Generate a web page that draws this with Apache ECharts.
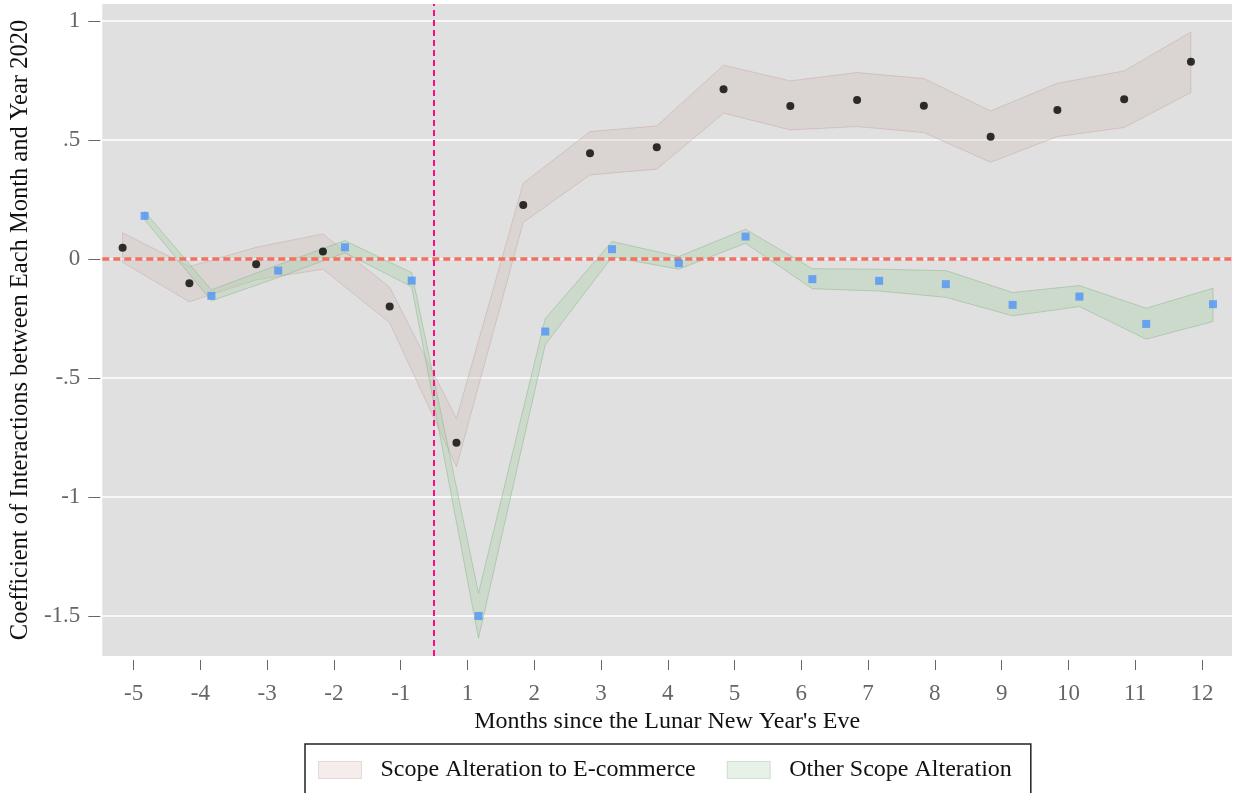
<!DOCTYPE html>
<html>
<head>
<meta charset="utf-8">
<script src="https://cdn.jsdelivr.net/npm/echarts@6/dist/echarts.min.js"></script>
<style>
html,body{margin:0;padding:0;background:#fff;}
#chart{width:1233px;height:793px;}
</style>
</head>
<body>
<div id="chart"></div>
<script>
// ---- data ----
const xTickLabels = ['-5','-4','-3','-2','-1','1','2','3','4','5','6','7','8','9','10','11','12'];
const yTickValues = [-1.5, -1, -0.5, 0, 0.5, 1];
const yTickLabels = ['-1.5', '-1', '-.5', '0', '.5', '1'];

const ecoCoef = [0.047, -0.102, -0.022, 0.031, -0.200, -0.772, 0.227, 0.444, 0.469, 0.713, 0.643, 0.668, 0.644, 0.513, 0.626, 0.671, 0.828];
const ecoLow  = [-0.014, -0.180, -0.088, -0.043, -0.268, -0.873, 0.153, 0.353, 0.377, 0.612, 0.542, 0.556, 0.531, 0.406, 0.514, 0.552, 0.699];
const ecoHigh = [0.110, -0.032, 0.049, 0.105, -0.119, -0.670, 0.318, 0.535, 0.559, 0.814, 0.748, 0.783, 0.758, 0.622, 0.738, 0.790, 0.953];

const otherCoef = [0.181, -0.155, -0.049, 0.049, -0.091, -1.500, -0.305, 0.041, -0.018, 0.094, -0.085, -0.092, -0.106, -0.193, -0.158, -0.273, -0.190];
const otherLow  = [0.164, -0.176, -0.078, 0.026, -0.117, -1.593, -0.360, 0.008, -0.043, 0.066, -0.125, -0.135, -0.161, -0.239, -0.200, -0.337, -0.263];
const otherHigh = [0.199, -0.130, -0.025, 0.077, -0.058, -1.404, -0.250, 0.073, 0.010, 0.125, -0.041, -0.043, -0.049, -0.141, -0.112, -0.207, -0.123];

const eventLine = 4.5; // between month -1 and month 1
const ECO_OFF = -0.165, OTHER_OFF = 0.165;

const FONT = "'Liberation Serif', 'Times New Roman', serif";
const xIdx = xTickLabels.map((_, i) => i);

function band(name, off, low, high, fill, stroke, z) {
  return {
    type: 'custom',
    name: name,
    z: z,
    silent: true,
    data: low.map((v, i) => [i + off, v, high[i]]),
    encode: { x: 0, y: [1, 2] },
    renderItem: function (params, api) {
      if (params.dataIndex !== 0) return null;
      const pts = [];
      for (let i = 0; i < high.length; i++) pts.push(api.coord([i + off, high[i]]));
      for (let i = low.length - 1; i >= 0; i--) pts.push(api.coord([i + off, low[i]]));
      return { type: 'polygon', shape: { points: pts }, style: { fill: fill, stroke: stroke, lineWidth: 1 } };
    }
  };
}

const chart = echarts.init(document.getElementById('chart'), null, { renderer: 'canvas' });
const option = {
  animation: false,
  backgroundColor: '#ffffff',
  grid: { left: 102, top: 4, right: 1, bottom: 137, show: true, backgroundColor: '#e0e0e0', borderWidth: 0 },
  xAxis: {
    type: 'value', min: -0.469, max: 16.45, offset: 4,
    axisLine: { show: false, onZero: false },
    axisTick: { show: true, length: 10, customValues: xIdx, lineStyle: { color: '#666', width: 1 } },
    axisLabel: { customValues: xIdx, margin: 22, color: '#666', fontSize: 23, fontFamily: FONT,
      formatter: v => xTickLabels[Math.round(v)] },
    splitLine: { show: false },
    name: "Months since the Lunar New Year's Eve",
    nameLocation: 'middle', nameGap: 43,
    nameTextStyle: { color: '#111', fontSize: 24, fontFamily: FONT }
  },
  yAxis: {
    type: 'value', min: -1.668, max: 1.071, offset: 2,
    axisLine: { show: false, onZero: false },
    axisTick: { show: true, length: 12, customValues: yTickValues, lineStyle: { color: '#666', width: 1 } },
    axisLabel: { customValues: yTickValues, margin: 20, color: '#666', fontSize: 23, fontFamily: FONT,
      formatter: v => { const k = yTickValues.findIndex(t => Math.abs(t - v) < 1e-9); return k >= 0 ? yTickLabels[k] : ''; } },
    splitLine: { show: true, lineStyle: { color: '#ffffff', width: 1.5 } },
    name: 'Coefficient of Interactions between Each Month and Year 2020',
    nameLocation: 'middle', nameGap: 64,
    nameTextStyle: { color: '#111', fontSize: 24.5, fontFamily: FONT }
  },
  legend: {
    left: 305, top: 744,
    padding: [14, 19, 14, 13],
    borderColor: '#222', borderWidth: 1.5,
    itemWidth: 43, itemHeight: 17, itemGap: 31,
    icon: 'rect',
    textStyle: { fontSize: 24, fontFamily: FONT, color: '#111', padding: [0, 0, 0, 14], lineHeight: 20 },
    data: [
      { name: 'Scope Alteration to E-commerce', itemStyle: { color: 'rgba(205,175,165,0.22)', borderColor: 'rgba(190,160,150,0.35)', borderWidth: 1 } },
      { name: 'Other Scope Alteration', itemStyle: { color: 'rgba(160,200,160,0.25)', borderColor: 'rgba(150,185,150,0.4)', borderWidth: 1 } }
    ]
  },
  series: [
    band('Scope Alteration to E-commerce', ECO_OFF, ecoLow, ecoHigh, 'rgba(200,176,168,0.25)', 'rgba(190,150,140,0.35)', 1),
    band('Other Scope Alteration', OTHER_OFF, otherLow, otherHigh, 'rgba(160,204,160,0.3)', 'rgba(130,175,130,0.45)', 2),
    {
      type: 'line', name: 'refs', data: [], z: 3, silent: true,
      markLine: {
        silent: true, symbol: 'none', label: { show: false }, animation: false,
        data: [
          { yAxis: 0, lineStyle: { color: '#f4705f', width: 3.5, type: [7, 4] } },
          { xAxis: eventLine, lineStyle: { color: '#ff0a80', width: 2, type: [6, 4] } }
        ]
      }
    },
    {
      type: 'scatter', name: 'ecoPts', z: 5, silent: true,
      symbol: 'circle', symbolSize: 8,
      itemStyle: { color: '#000000' },
      data: ecoCoef.map((v, i) => [i + ECO_OFF, v])
    },
    {
      type: 'scatter', name: 'otherPts', z: 5, silent: true,
      symbol: 'rect', symbolSize: 8,
      itemStyle: { color: '#4f94f8' },
      data: otherCoef.map((v, i) => [i + OTHER_OFF, v])
    }
  ]
};
chart.setOption(option);
</script>
</body>
</html>
